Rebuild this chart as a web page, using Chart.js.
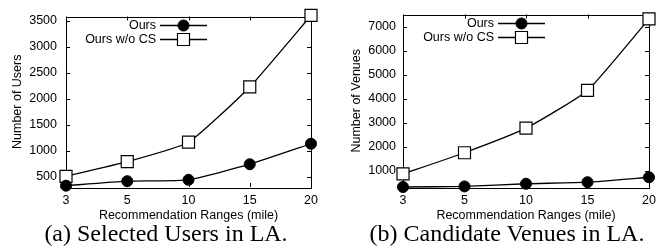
<!DOCTYPE html>
<html>
<head>
<meta charset="utf-8">
<script src="https://cdn.jsdelivr.net/npm/chart.js@4.4.1/dist/chart.umd.min.js"></script>
<style>
  body { margin: 0; background: #fff; }
  .panel { position: absolute; top: 0; width: 334px; height: 251px; }
  .caption { position: absolute; top: 221px; width: 320px; font-family: "Liberation Serif", serif; font-size: 24px; line-height: 24px; text-align: center; white-space: nowrap; color: #000; }
</style>
</head>
<body>
<div class="panel" style="left:0"><canvas id="usersChart" width="334" height="224"></canvas></div>
<div class="panel" style="left:334px"><canvas id="venuesChart" width="334" height="224"></canvas></div>
<div class="caption" style="left:6px">(a) Selected Users in LA.</div>
<div class="caption" style="left:347px">(b) Candidate Venues in LA.</div>
<script>
// recommendation ranges (mile)
var ranges = ['3', '5', '10', '15', '20'];
var seriesNames = ['Ours', 'Ours w/o CS'];

// (a) selected users
var usersOurs = [325, 412, 438, 738, 1132];
var usersNoCS = [505, 787, 1162, 2225, 3600];
var usersTicks = [500, 1000, 1500, 2000, 2500, 3000, 3500];

// (b) candidate venues
var venuesOurs = [320, 344, 455, 521, 727];
var venuesNoCS = [865, 1750, 2776, 4350, 7340];
var venuesTicks = [1000, 2000, 3000, 4000, 5000, 6000, 7000];

var sansFont = { family: '"Liberation Sans", Arial, sans-serif', size: 12.5 };

// gnuplot-ish frame, inward ticks and the key in the top right
var gnuplotFrame = {
    id: 'gnuplotFrame',
    beforeDatasetsDraw: function(chart) {
        var ctx = chart.ctx;
        var a = chart.chartArea;
        var x = chart.scales.x, y = chart.scales.y;
        ctx.save();
        ctx.strokeStyle = '#000';
        ctx.lineWidth = 1;
        ctx.strokeRect(Math.round(a.left) + 0.5, Math.round(a.top) + 0.5, Math.round(a.right - a.left), Math.round(a.bottom - a.top));
        ctx.beginPath();
        y.ticks.forEach(function(t) {
            var py = Math.round(y.getPixelForValue(t.value)) + 0.5;
            ctx.moveTo(a.left, py); ctx.lineTo(a.left + 4, py);
            ctx.moveTo(a.right, py); ctx.lineTo(a.right - 4, py);
        });
        ranges.forEach(function(r, i) {
            var px = Math.round(x.getPixelForValue(i)) + 0.5;
            ctx.moveTo(px, a.bottom); ctx.lineTo(px, a.bottom - 4);
            ctx.moveTo(px, a.top); ctx.lineTo(px, a.top + 4);
        });
        ctx.stroke();
        ctx.restore();
    },
    afterDraw: function(chart) {
        var ctx = chart.ctx;
        var a = chart.chartArea;
        var lineEnd = a.right - 104;
        var lineStart = lineEnd - 47;
        var mid = (lineStart + lineEnd) / 2;
        ctx.save();
        ctx.font = '12.5px "Liberation Sans", Arial, sans-serif';
        ctx.textAlign = 'right';
        ctx.textBaseline = 'middle';
        chart.data.datasets.forEach(function(ds, i) {
            var ly = a.top + 9 + i * 14;
            ctx.fillStyle = '#000';
            ctx.fillText(ds.label, lineStart - 4, ly);
            ctx.strokeStyle = '#000';
            ctx.lineWidth = 1.3;
            ctx.beginPath();
            ctx.moveTo(lineStart, ly); ctx.lineTo(lineEnd, ly);
            ctx.stroke();
            ctx.fillStyle = ds.pointBackgroundColor;
            ctx.lineWidth = ds.pointBorderWidth;
            ctx.beginPath();
            if (ds.pointStyle === 'rect') {
                var s = ds.pointRadius * Math.SQRT1_2;
                ctx.rect(mid - s, ly - s, 2 * s, 2 * s);
            } else {
                ctx.arc(mid, ly, ds.pointRadius, 0, Math.PI * 2);
            }
            ctx.fill();
            ctx.stroke();
        });
        ctx.restore();
    }
};

function makeChart(id, ours, noCS, yMin, yMax, yTicks, yTitle, yWidth, rightPad, titlePad, tickPad) {
    var ctx = document.getElementById(id).getContext('2d');
    return new Chart(ctx, {
        type: 'line',
        data: {
            labels: ranges,
            datasets: [{
                label: seriesNames[0],
                data: ours,
                borderColor: '#000',
                borderWidth: 1.3,
                pointStyle: 'circle',
                pointRadius: 5.5,
                pointBackgroundColor: '#000',
                pointBorderColor: '#000',
                pointBorderWidth: 1,
                tension: 0.15,
                clip: false
            }, {
                label: seriesNames[1],
                data: noCS,
                borderColor: '#000',
                borderWidth: 1.3,
                pointStyle: 'rect',
                pointRadius: 8.5,
                pointBackgroundColor: '#fff',
                pointBorderColor: '#000',
                pointBorderWidth: 1.2,
                tension: 0.15,
                clip: false
            }]
        },
        options: {
            responsive: false,
            animation: false,
            layout: { padding: { top: 12, right: rightPad, left: 0, bottom: 0 } },
            plugins: { legend: { display: false }, tooltip: { enabled: false } },
            scales: {
                x: {
                    offset: false,
                    grid: { display: false, drawTicks: false },
                    border: { display: false },
                    ticks: { color: '#000', font: sansFont, padding: 6, maxRotation: 0 },
                    title: { display: true, text: 'Recommendation Ranges (mile)', color: '#000', font: sansFont, padding: { top: 0, bottom: 1 } },
                    afterFit: function(scale) { scale.height = 37; }
                },
                y: {
                    min: yMin,
                    max: yMax,
                    grid: { display: false, drawTicks: false },
                    border: { display: false },
                    ticks: {
                        color: '#000',
                        font: sansFont,
                        padding: tickPad,
                        callback: function(v) { return String(v); }
                    },
                    afterBuildTicks: function(scale) {
                        scale.ticks = yTicks.map(function(v) { return { value: v }; });
                    },
                    title: { display: true, text: yTitle, color: '#000', font: sansFont, padding: { top: titlePad, bottom: 0 } },
                    afterFit: function(scale) { scale.width = yWidth; }
                }
            }
        },
        plugins: [gnuplotFrame]
    });
}

var usersChart = makeChart('usersChart', usersOurs, usersNoCS, 300, 3580, usersTicks, 'Number of Users', 66, 23, 10.5, 9);
var venuesChart = makeChart('venuesChart', venuesOurs, venuesNoCS, 320, 7520, venuesTicks, 'Number of Venues', 69, 19, 15, 7);
</script>
</body>
</html>
